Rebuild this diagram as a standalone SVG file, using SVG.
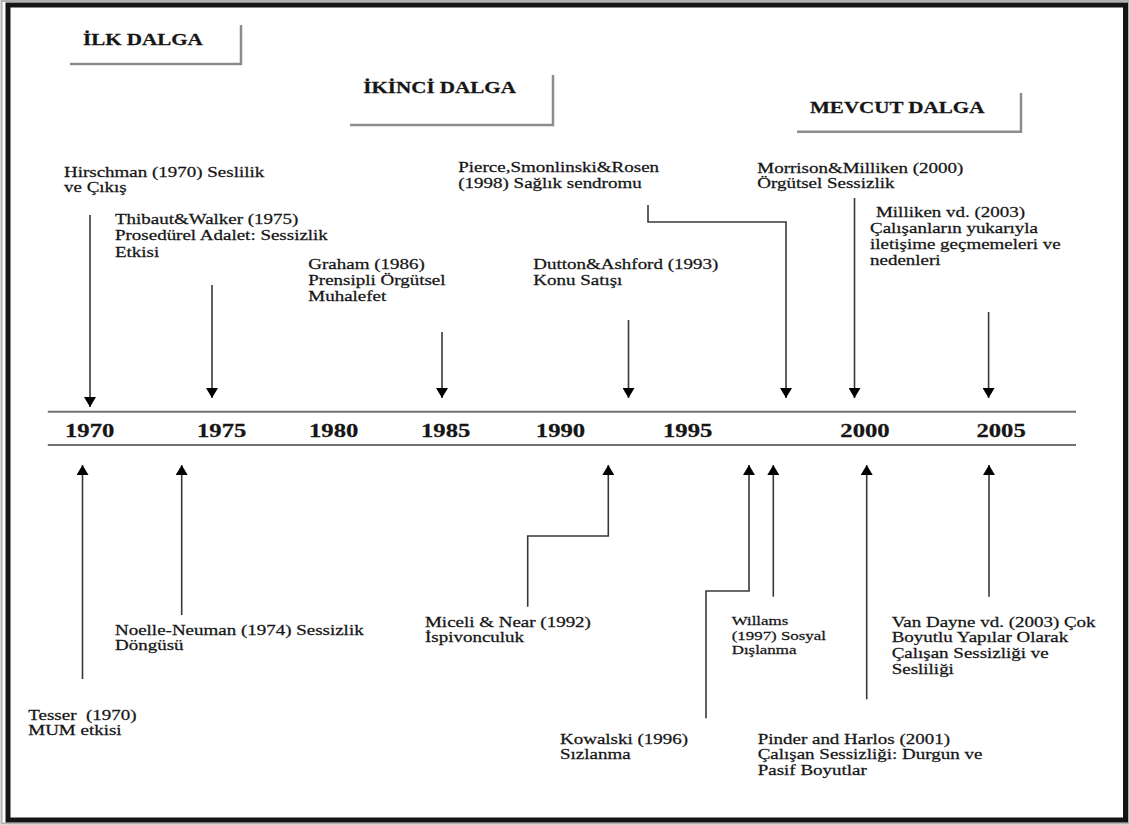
<svg xmlns="http://www.w3.org/2000/svg" width="1130" height="825" viewBox="0 0 1130 825">
<style>
.t{font-family:"Liberation Serif","Times New Roman",serif;font-size:14.6px;fill:#161616;stroke:#161616;stroke-width:0.25}
.s{font-size:13px}
.h{font-weight:bold;font-size:16.2px}
.y{font-weight:bold;font-size:19px}
.c{fill:none;stroke:#383838;stroke-width:1.6}
.box{fill:none;stroke:#8c8c8c;stroke-width:2.5}
.tl{stroke:#707070;stroke-width:2}
</style>
<defs>
<marker id="ah" viewBox="0 0 10 12" refX="10" refY="6" markerWidth="10" markerHeight="12" markerUnits="userSpaceOnUse" orient="auto">
<path d="M0,0 L10,6 L0,12 z" fill="#000"/>
</marker>
</defs>
<rect x="0" y="0" width="1130" height="825" fill="#fff"/>
<rect x="1.5" y="1" width="1127" height="822.5" fill="none" stroke="#b0b0b0" stroke-width="2"/>
<rect x="8" y="5" width="1117.5" height="815" fill="none" stroke="#141414" stroke-width="5"/>

<g id="header-ilk">
<path class="box" d="M70,64 H241 V25"/>
<text class="t h" transform="translate(83,45) scale(1.3,1)">İLK DALGA</text>
</g>
<g id="header-ikinci">
<path class="box" d="M350,125 H553 V75"/>
<text class="t h" transform="translate(363.3,93.3) scale(1.3,1)">İKİNCİ DALGA</text>
</g>
<g id="header-mevcut">
<path class="box" d="M797,131.7 H1021 V93"/>
<text class="t h" transform="translate(810,112.7) scale(1.3,1)">MEVCUT DALGA</text>
</g>

<g id="timeline">
<line class="tl" x1="47.8" y1="411.7" x2="1076" y2="411.7"/>
<line class="tl" x1="47.8" y1="445" x2="1076" y2="445" stroke="#5a5a5a"/>
<text class="t y" transform="translate(65,437.3) scale(1.3,1)">1970</text>
<text class="t y" transform="translate(197,437.3) scale(1.3,1)">1975</text>
<text class="t y" transform="translate(309,437.3) scale(1.3,1)">1980</text>
<text class="t y" transform="translate(421,437.3) scale(1.3,1)">1985</text>
<text class="t y" transform="translate(535.8,437.3) scale(1.3,1)">1990</text>
<text class="t y" transform="translate(663,437.3) scale(1.3,1)">1995</text>
<text class="t y" transform="translate(840.3,437.3) scale(1.3,1)">2000</text>
<text class="t y" transform="translate(976.4,437.3) scale(1.3,1)">2005</text>
</g>

<g id="connectors">
<path class="c" marker-end="url(#ah)" d="M90,215 V407"/>
<path class="c" marker-end="url(#ah)" d="M212,285 V398"/>
<path class="c" marker-end="url(#ah)" d="M442,332 V398"/>
<path class="c" marker-end="url(#ah)" d="M628.5,320 V398"/>
<path class="c" marker-end="url(#ah)" d="M648,205 V222 H786 V398"/>
<path class="c" marker-end="url(#ah)" d="M854.5,198 V398"/>
<path class="c" marker-end="url(#ah)" d="M988.6,312 V398"/>
<path class="c" marker-end="url(#ah)" d="M82.5,679 V465"/>
<path class="c" marker-end="url(#ah)" d="M181.7,615 V465"/>
<path class="c" marker-end="url(#ah)" d="M527.7,606.7 V536 H608.3 V465"/>
<path class="c" marker-end="url(#ah)" d="M706,718.3 V591 H749 V465"/>
<path class="c" marker-end="url(#ah)" d="M773.3,596.7 V465"/>
<path class="c" marker-end="url(#ah)" d="M866.7,699.3 V465"/>
<path class="c" marker-end="url(#ah)" d="M989,596.7 V465"/>
</g>

<g id="hirschman">
<text class="t" transform="translate(64,176.7) scale(1.3,1)"><tspan x="0">Hirschman (1970) Seslilik</tspan><tspan x="0" dy="15">ve Çıkış</tspan></text>
</g>
<g id="thibaut">
<text class="t" transform="translate(115,224) scale(1.3,1)"><tspan x="0">Thibaut&amp;Walker (1975)</tspan><tspan x="0" dy="16.3">Prosedürel Adalet: Sessizlik</tspan><tspan x="0" dy="16.3">Etkisi</tspan></text>
</g>
<g id="graham">
<text class="t" transform="translate(308.3,269.3) scale(1.3,1)"><tspan x="0">Graham (1986)</tspan><tspan x="0" dy="15.8">Prensipli Örgütsel</tspan><tspan x="0" dy="15.8">Muhalefet</tspan></text>
</g>
<g id="pierce">
<text class="t" transform="translate(458.3,171.5) scale(1.3,1)"><tspan x="0">Pierce,Smonlinski&amp;Rosen</tspan><tspan x="0" dy="16.5">(1998) Sağlık sendromu</tspan></text>
</g>
<g id="dutton">
<text class="t" transform="translate(533.3,269.3) scale(1.3,1)"><tspan x="0">Dutton&amp;Ashford (1993)</tspan><tspan x="0" dy="15.7">Konu Satışı</tspan></text>
</g>
<g id="morrison">
<text class="t" transform="translate(757.3,173.3) scale(1.3,1)"><tspan x="0">Morrison&amp;Milliken (2000)</tspan><tspan x="0" dy="15">Örgütsel Sessizlik</tspan></text>
</g>
<g id="milliken">
<text class="t" transform="translate(870,216.7) scale(1.3,1)"><tspan x="4.6">Milliken vd. (2003)</tspan><tspan x="0" dy="16">Çalışanların yukarıyla</tspan><tspan x="0" dy="16">iletişime geçmemeleri ve</tspan><tspan x="0" dy="16">nedenleri</tspan></text>
</g>

<g id="tesser">
<text class="t" transform="translate(28.3,720) scale(1.3,1)" style="white-space:pre"><tspan x="0">Tesser  (1970)</tspan><tspan x="0" dy="15">MUM etkisi</tspan></text>
</g>
<g id="noelle">
<text class="t" transform="translate(115,635) scale(1.3,1)"><tspan x="0">Noelle-Neuman (1974) Sessizlik</tspan><tspan x="0" dy="15">Döngüsü</tspan></text>
</g>
<g id="miceli">
<text class="t" transform="translate(425,626.7) scale(1.3,1)"><tspan x="0">Miceli &amp; Near (1992)</tspan><tspan x="0" dy="15">İspivonculuk</tspan></text>
</g>
<g id="willams">
<text class="t s" transform="translate(731.7,625) scale(1.3,1)"><tspan x="0">Willams</tspan><tspan x="0" dy="14.6">(1997) Sosyal</tspan><tspan x="0" dy="14.6">Dışlanma</tspan></text>
</g>
<g id="kowalski">
<text class="t" transform="translate(560,744) scale(1.3,1)"><tspan x="0">Kowalski (1996)</tspan><tspan x="0" dy="15.3">Sızlanma</tspan></text>
</g>
<g id="pinder">
<text class="t" transform="translate(757.7,744) scale(1.3,1)"><tspan x="0">Pinder and Harlos (2001)</tspan><tspan x="0" dy="15.5">Çalışan Sessizliği: Durgun ve</tspan><tspan x="0" dy="15.5">Pasif Boyutlar</tspan></text>
</g>
<g id="vandayne">
<text class="t" transform="translate(891.7,626.7) scale(1.3,1)"><tspan x="0">Van Dayne vd. (2003) Çok</tspan><tspan x="0" dy="15.8">Boyutlu Yapılar Olarak</tspan><tspan x="0" dy="15.8">Çalışan Sessizliği ve</tspan><tspan x="0" dy="15.8">Sesliliği</tspan></text>
</g>
</svg>
